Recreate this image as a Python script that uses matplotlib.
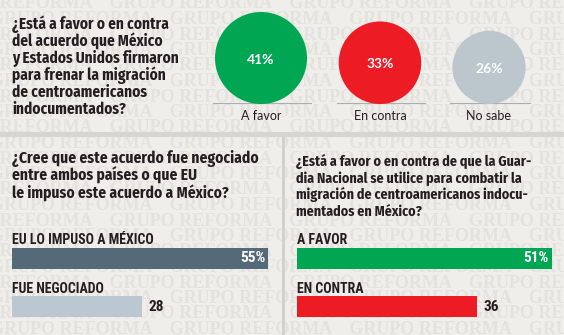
import matplotlib
matplotlib.use("Agg")
import matplotlib.pyplot as plt
from matplotlib.patches import Circle, Rectangle
import numpy as np

# ---- data ----
q1_lines = ["¿Está a favor o en contra", "del acuerdo que México", "y Estados Unidos firmaron",
            "para frenar la migración", "de centroamericanos", "indocumentados?"]
q1_labels = ["A favor", "En contra", "No sabe"]
q1_values = [41, 33, 26]

q2_lines = ["¿Cree que este acuerdo fue negociado", "entre ambos países o que EU",
            "le impuso este acuerdo a México?"]
q2_labels = ["EU LO IMPUSO A MÉXICO", "FUE NEGOCIADO"]
q2_values = [55, 28]

q3_lines = ["¿Está a favor o en contra de que la Guar-", "dia Nacional se utilice para combatir la",
            "migración de centroamericanos indocu-", "mentados en México?"]
q3_labels = ["A FAVOR", "EN CONTRA"]
q3_values = [51, 36]

BG = "#efeeea"
WM = "#e3e2dd"
DARK = "#231f20"
GREEN = "#00a651"
RED = "#ed1c24"
GREY = "#bcc6cd"
SLATE = "#546a78"
LIGHT = "#bcc8d1"

QFONT = ["Fira Sans Condensed", "DejaVu Sans"]
BOLD = ["Roboto Condensed", "DejaVu Sans"]
REG = ["Lato", "DejaVu Sans"]

W, H = 564, 335
fig = plt.figure(figsize=(W / 100, H / 100), dpi=100, facecolor=BG)
ax = fig.add_axes([0, 0, 1, 1])
ax.set_xlim(0, W)
ax.set_ylim(H, 0)
ax.axis("off")
ax.set_facecolor(BG)

# watermark rows
row = "GRUPO REFORMA    " * 8
for i, y in enumerate(np.arange(4, H + 10, 15.5)):
    off = -70 if i % 2 == 0 else -10
    ax.text(off, y, row, fontsize=13, family=["Liberation Serif"], weight="bold",
            color=WM, va="center", ha="left", zorder=0, clip_on=True)

# dividers
ax.add_patch(Rectangle((0, 132), W, 5, color="#d6d5d1", zorder=1, lw=0))
ax.add_patch(Rectangle((282, 137), 3, H - 137, color="#d2d1cd", zorder=1, lw=0))


def para(x, y0, step, lines, size):
    for i, ln in enumerate(lines):
        ax.text(x, y0 + i * step, ln, fontsize=size, family=QFONT, weight="bold",
                color=DARK, va="baseline", ha="left", zorder=3)


para(12, 29, 17.1, q1_lines, 11.0)
para(12, 163, 17.2, q2_lines, 11.1)
para(296, 166, 16.7, q3_lines, 10.1)

cx = [261, 380, 489]
k = 46 / np.sqrt(41)
base = 104
for x, v, lab, col in zip(cx, q1_values, q1_labels, [GREEN, RED, GREY]):
    r = k * np.sqrt(v)
    ax.add_patch(Circle((x, base - r), r, color=col, zorder=3, lw=0))
    ax.text(x, base - r + 1.5, f"{v}%", fontsize=10, family=REG, weight="bold",
            color="white", ha="center", va="center", zorder=4)
    ax.plot([x - r - 2, x + r + 4], [base - 1, base - 1], color="#a8aeb2", lw=0.8, zorder=2)
    ax.text(x, 116, lab, fontsize=9, family=REG, color=DARK, ha="center",
            va="center", zorder=4)


def bar_panel(x0, ppu, xmax, labels, values, colors):
    top, bottom = 234, 331
    bax = fig.add_axes([x0 / W, 1 - bottom / H, ppu * xmax / W, (bottom - top) / H])
    bax.set_xlim(0, xmax)
    bax.set_ylim(2, 0)
    bax.axis("off")
    ys = np.arange(len(values)) + 0.5
    bax.barh(ys, values, height=0.43, color=colors, zorder=3)
    for i, (y, v, lab) in enumerate(zip(ys, values, labels)):
        bax.text(0, y - 0.29, lab, fontsize=10, family=BOLD, weight="bold",
                 color=DARK, ha="left", va="baseline", zorder=4)
        if i == 0:
            bax.text(v - 0.6, y, f"{v}%", fontsize=11, family=BOLD, weight="bold",
                     color="white", ha="right", va="center", zorder=4)
        else:
            bax.text(v + 1.4, y, f"{v}", fontsize=11, family=BOLD, weight="bold",
                     color=DARK, ha="left", va="center", zorder=4)
    return bax


bar_panel(12, 256 / 55, 60, q2_labels, q2_values, [SLATE, LIGHT])
bar_panel(297, 5.0, 53, q3_labels, q3_values, [GREEN, RED])

fig.savefig("out.png", dpi=100, facecolor=BG)
